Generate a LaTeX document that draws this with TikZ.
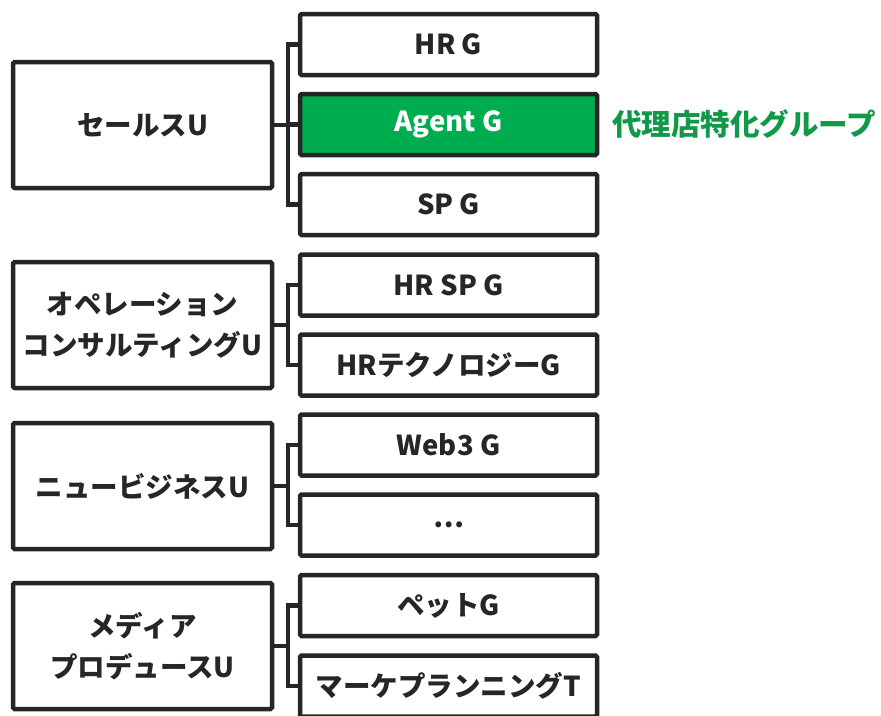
\documentclass[tikz,border=0pt]{standalone}
\usepackage{fontspec}
\setmainfont{Noto Sans CJK JP}
\definecolor{ink}{HTML}{262626}
\definecolor{gfill}{HTML}{00AD4E}
\definecolor{gtext}{HTML}{11994A}
\tikzset{
  unitbox/.style={draw=ink, line width=4.5pt, rounded corners=1.5pt, fill=white,
    minimum width=259pt, minimum height=126pt, inner sep=0pt, align=center,
    text=ink, font=\fontsize{27.5}{41}\selectfont\bfseries},
  grpbox/.style={draw=ink, line width=4.5pt, rounded corners=1.5pt, fill=white,
    minimum width=297pt, minimum height=61pt, inner sep=0pt, align=center,
    text=ink, font=\fontsize{27.5}{32}\selectfont\bfseries},
  link/.style={draw=ink, line width=4.5pt, line join=miter},
}
\begin{document}
\begin{tikzpicture}[x=1pt,y=-1pt]
\useasboundingbox (0,0) rectangle (881,715);
% units
\node[unitbox] (sales) at (142.5,125) {セールスU};
\node[unitbox] (ops) at (142.5,325) {オペレーション\\コンサルティングU};
\node[unitbox] (newbiz) at (142.5,486) {ニュービジネスU};
\node[unitbox] (media) at (142.5,646) {メディア\\プロデュースU};
% groups
\node[grpbox] (hr) at (448.5,44.5) {HR G};
\node[grpbox, fill=gfill, text=white] (agent) at (448.5,124.5) {Agent G};
\node[grpbox] (sp) at (448.5,204.5) {SP G};
\node[grpbox] (hrsp) at (448.5,285) {HR SP G};
\node[grpbox] (hrtech) at (448.5,365) {HRテクノロジーG};
\node[grpbox] (web3) at (448.5,445) {Web3 G};
\node[grpbox] (etc) at (448.5,525) {…};
\node[grpbox] (pet) at (448.5,605.5) {ペットG};
\node[grpbox] (mkt) at (448.5,686) {マーケプランニングT};
% label
\node[anchor=west, inner sep=0pt, text=gtext, font=\fontsize{29.5}{32}\selectfont\bfseries] (lbl) at (612,124) {代理店特化グループ};
% connectors
\coordinate (bx) at (288,0);
\draw[link] (sales.east) -- (sales.east -| bx);
\draw[link] (hr.west) -- (hr.west -| bx) -- (sp.west -| bx) -- (sp.west);
\draw[link] (agent.west) -- (agent.west -| bx);
\draw[link] (ops.east) -- (ops.east -| bx);
\draw[link] (hrsp.west) -- (hrsp.west -| bx) -- (hrtech.west -| bx) -- (hrtech.west);
\draw[link] (newbiz.east) -- (newbiz.east -| bx);
\draw[link] (web3.west) -- (web3.west -| bx) -- (etc.west -| bx) -- (etc.west);
\draw[link] (media.east) -- (media.east -| bx);
\draw[link] (pet.west) -- (pet.west -| bx) -- (mkt.west -| bx) -- (mkt.west);
\end{tikzpicture}
\end{document}
